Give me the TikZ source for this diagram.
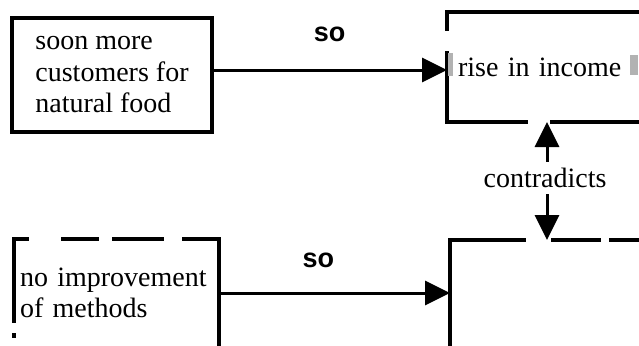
\documentclass[tikz,border=0pt]{standalone}
\usepackage{fontspec}
\setmainfont{Liberation Serif}
\newfontfamily\labelsans{Liberation Sans}
\usetikzlibrary{arrows.meta}

\begin{document}
\begin{tikzpicture}[x=1pt,y=-1pt,
  edge/.style={line width=3.2pt, line cap=rect},
  boxnode/.style={draw=none, outer sep=0pt, inner ysep=0pt,
    font=\fontsize{28}{31.5}\selectfont, align=left},
  link/.style={line width=3pt, -{Triangle[length=25pt,width=24pt]}},
  solabel/.style={font=\labelsans\bfseries\fontsize{27}{30}\selectfont, inner sep=0pt},
  marker/.style={fill=gray!60},
]
\useasboundingbox (0,0) rectangle (639,345);

% upper left claim
\node[boxnode, minimum width=200pt, minimum height=114pt] (n1) at (112,75)
  {soon more\\customers for\\natural food};
\draw[edge] (n1.north west) rectangle (n1.south east);

% upper right claim
\node[boxnode, minimum width=273pt, minimum height=110pt,
      text width=251pt, inner xsep=11pt] (n2) at (583.5,67) {rise in income};
\draw[edge] (n2.north west) -- (n2.north east);
\draw[edge, dash pattern=on 17.8pt off 23.2pt on 200pt] (n2.north west) -- (n2.south west);
\draw[edge, dash pattern=on 79.8pt off 25.2pt on 300pt] (n2.south west) -- (n2.south east);
\fill[marker] (448,53) rectangle (453,76);
\fill[marker] (630,55) rectangle (638,75);

% lower left claim
\node[boxnode, minimum width=205pt, minimum height=108pt,
      text width=193pt, inner xsep=6pt] (n3) at (116.5,293)
  {no improvement\\of methods};
\draw[edge, dash pattern=on 13.8pt off 35.2pt on 34.8pt off 16.2pt on 48.8pt off 21.2pt on 40pt]
  (n3.north west) -- (n3.north east);
\draw[edge, dash pattern=on 82.8pt off 13.2pt on 1.8pt off 100pt] (n3.north west) -- (n3.south west);
\draw[edge] (n3.north east) -- (n3.south east);

% lower right claim
\node[boxnode, minimum width=270pt, minimum height=106pt] (n4) at (585,293) {};
\draw[edge, dash pattern=on 74.8pt off 28.2pt on 46.8pt off 11.2pt on 200pt]
  (n4.north west) -- (n4.north east);
\draw[edge] (n4.north west) -- (n4.south west);

% consequences
\draw[link] ([yshift=5pt]n1.east) -- ([yshift=5pt]n1.east -| n2.west)
  node[solabel, midway, above=27pt] {so};
\draw[link] (n3.east) -- (n4.west)
  node[solabel, pos=0.43, above=24pt] {so};

% contradiction between the right-hand claims
\node[font=\fontsize{28}{30}\selectfont, inner xsep=0pt, inner ysep=6pt] (nc) at (545,178) {contradicts};
\draw[link] ([xshift=2pt]nc.north) -- ([xshift=2pt]nc.north |- n2.south);
\draw[link] ([xshift=2pt]nc.south) -- ([xshift=2pt]nc.south |- n4.north);
\end{tikzpicture}
\end{document}
